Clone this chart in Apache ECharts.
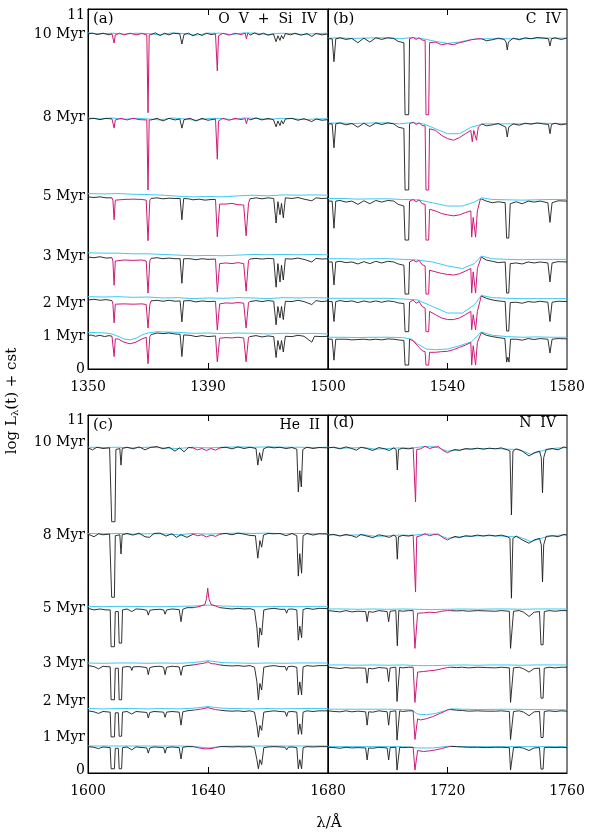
<!DOCTYPE html>
<html><head><meta charset="utf-8">
<script src="https://cdn.jsdelivr.net/npm/echarts@6/dist/echarts.min.js"></script>
<style>html,body{margin:0;padding:0;background:#fff}#c{width:591px;height:837px}</style>
</head><body><div id="c"></div>
<script>
// ---------------- DATA ----------------
// ages (bottom to top) and spectrum levels (log L + cst) for each panel
const ages = ['1 Myr','2 Myr','3 Myr','5 Myr','8 Myr','10 Myr'];
const levelsA = [1.02, 2.11, 3.42, 5.26, 7.64, 10.24];
const levelsB = [0.91, 2.06, 3.27, 5.13, 7.49, 10.09];
const levelsC = [0.81, 1.91, 3.30, 5.06, 7.34, 9.99];
const levelsD = [0.79, 1.91, 3.25, 4.99, 7.31, 9.99];
// y tick labels
const yLabelTextTop = ['0','1 Myr','2 Myr','3 Myr','5 Myr','8 Myr','10 Myr','11'];
const yLabelPosTop  = [0, 1.01, 2.02, 3.45, 5.29, 7.70, 10.24, 10.80];
const yLabelTextBot = ['0','1 Myr','2 Myr','3 Myr','5 Myr','8 Myr','10 Myr','11'];
const yLabelPosBot  = [0.08, 1.11, 2.21, 3.38, 5.07, 7.31, 10.15, 10.85];
// x ranges and tick labels
const xRangeA = [1350, 1430], xRangeB = [1500, 1580], xRangeC = [1600, 1680], xRangeD = [1680, 1760];
const xLabelsA = [1350, 1390], xLabelsB = [1500, 1540, 1580], xLabelsC = [1600, 1640], xLabelsD = [1680, 1720, 1760];
const xMidA = [1390], xMidB = [1540], xMidC = [1640], xMidD = [1720];
const panelTags = ['(a)','(b)','(c)','(d)'];
const panelIons = ['O  V  +  Si  IV','C  IV','He  II','N  IV'];

// spectra: flat lists of wavelength, offset from level (null = gap)
// ---- Panel (a) ----
const A10k=[1350,0,1351.5,.02,1353,-.02,1355,.02,1357,-.03,1358,0,null,1371,-.02,1372.5,.03,1374,-.05,1375.5,.02,1377,-.03,1378.5,.02,1380.6,0,1381.3,-.31,1382,-.02,1383.5,.02,1385,-.06,1386.5,.01,1388,-.05,1389.5,.02,1391,-.02,1392.5,0,null,1404,-.04,1405.5,.03,1407,-.03,1408.5,.02,1410,-.04,1411.8,0,1412.7,-.24,1413.3,-.06,1414,-.2,1414.5,-.05,1415.1,-.15,1415.8,.01,1417.5,-.03,1419,.02,1421,-.04,1423,.01,1424.6,-.08,1426,.01,1428,-.03,1430,0];
const A10m=[1358,0,1358.4,-.03,1358.7,-.28,1359.1,-.03,1360.5,.02,1362,-.03,1364,.02,1366,-.03,1368,.01,1369.6,-.03,1370,-2.41,1370.4,-.03,1371,-.02,null,1392.5,0,1392.7,-.06,1393.1,-1.13,1393.5,-.06,1395,.02,1397,-.04,1399,.02,1401,-.02,1402.4,.02,1402.8,-.15,1403.3,.03,1404,-.04];
const A10c=[1350,.03,1354,0,1358,.02,1362,-.01,1366,.02,1370,.01,1374,-.03,1378,.03,1382,.01,1386,-.04,1390,.02,1394,.02,1398,-.02,1402,.03,1406,.02,1410,-.02,1414,.02,1418,.01,1422,-.02,1426,.01,1430,.02];
const A8k=[1350,0,1352,.02,1354,-.02,1356,.02,1358,0,null,1371,-.03,1373,.02,1375,-.06,1377,.02,1379,-.03,1380.6,0,1381.3,-.28,1382,-.02,1384,.02,1386,-.06,1388,.02,1390,-.04,1392.5,0,null,1404,-.03,1406,.03,1408,-.03,1410,.02,1411.8,-.02,1412.7,-.24,1413.3,-.06,1414,-.2,1414.5,-.05,1415.1,-.15,1415.8,0,1418,.02,1420,-.04,1422,.01,1424.6,-.08,1426,0,1428,-.04,1430,-.02];
const A8m=[1358,0,1358.4,-.03,1358.7,-.28,1359.1,-.03,1361,.02,1363,-.03,1365,.02,1367,-.02,1369.6,-.03,1370,-2.17,1370.4,-.03,1371,-.03,null,1392.5,0,1392.7,-.06,1393.1,-1.23,1393.5,-.06,1395,.02,1397,-.04,1399,.02,1401,-.02,1402.4,.01,1402.8,-.15,1403.3,.02,1404,-.03];
const A8c=[1350,.03,1354,0,1358,.03,1362,-.01,1366,.02,1370,0,1374,-.03,1378,.03,1382,0,1386,-.04,1390,.01,1394,.02,1398,-.02,1402,.03,1406,.02,1410,-.02,1414,.02,1418,.01,1422,-.02,1426,0,1430,.01];
const A5k=[1350,0,1352,-.02,1354,0,1356,-.03,1358,-.03,null,1371,-.05,1373,-.03,1375,-.06,1377,-.04,1379,-.05,1380.7,-.05,1381.3,-.7,1381.9,-.05,1383.5,-.06,1385,-.09,1387,-.07,1389,-.1,1391,-.08,1392.5,-.08,null,1404,-.06,1406,-.03,1408,-.06,1410,-.03,1411.9,-.05,1412.7,-.8,1413.3,-.15,1414,-.55,1414.5,-.2,1415.1,-.64,1415.8,-.03,1418,-.05,1420,-.02,1422,-.07,1424.6,-.12,1426,-.03,1428,-.05,1430,-.04];
const A5m=[1358,-.03,1358.3,-.1,1358.7,-.7,1359.1,-.1,1359.5,-.08,1362,-.08,1365,-.07,1368,-.08,1369.4,-.1,1370,-1.34,1370.6,-.1,1371,-.05,null,1392.5,-.08,1393.1,-1.22,1393.9,-.22,1396,-.22,1398,-.2,1400,-.24,1401.9,-.25,1402.7,-1.19,1403.5,-.2,1404,-.06];
const A5c=[1350,.1,1355,.09,1360,.1,1365,.08,1370,.07,1375,.05,1380,.02,1385,0,1390,.01,1395,0,1400,.03,1405,.05,1410,.03,1415,.06,1420,.05,1425,.06,1430,.05];
const A3k=[1350,0,1352,-.02,1354,.01,1356,-.03,1358,-.02,null,1371,-.04,1373,-.02,1375,-.05,1377,-.03,1379,-.05,1380.7,-.05,1381.3,-.8,1381.9,-.05,1384,-.05,1386,-.08,1388,-.05,1390,-.07,1392.5,-.06,null,1404,-.06,1406,-.04,1408,-.06,1410,-.04,1411.9,-.05,1412.7,-.92,1413.3,-.2,1414,-.76,1414.5,-.25,1415.1,-.7,1415.8,-.05,1418,-.06,1420,-.03,1422,-.07,1424.6,-.15,1426,-.04,1428,-.06,1430,-.05];
const A3m=[1358,-.02,1358.3,-.12,1358.7,-.86,1359.1,-.12,1359.5,-.09,1362,-.09,1365,-.1,1368,-.09,1369.4,-.12,1370,-1.1,1370.6,-.12,1371,-.04,null,1392.5,-.06,1393.1,-1.07,1393.9,-.2,1396,-.18,1398,-.2,1400,-.17,1401.9,-.2,1402.7,-1.04,1403.5,-.1,1404,-.06];
const A3c=[1350,.13,1355,.12,1360,.12,1365,.1,1370,.1,1375,.08,1380,.06,1385,.04,1390,.05,1395,.04,1400,.06,1405,.08,1410,.07,1415,.08,1420,.07,1425,.08,1430,.07];
const A2k=[1350,0,1352,.02,1354,-.01,1356,.01,1358,-.02,null,1371,-.03,1373,-.01,1375,-.04,1377,-.01,1379,-.04,1380.7,-.03,1381.3,-.67,1381.9,-.03,1384,-.02,1386,-.06,1388,-.03,1390,-.05,1392.5,-.04,null,1404,-.05,1406,-.02,1408,-.05,1410,-.02,1411.9,-.04,1412.7,-.76,1413.3,-.2,1414,-.55,1414.5,-.2,1415.1,-.6,1415.8,-.04,1418,-.05,1420,-.01,1422,-.05,1424.6,-.14,1426,-.02,1428,-.05,1430,-.03];
const A2m=[1358,-.02,1358.3,-.13,1358.7,-.7,1359.1,-.13,1359.5,-.12,1362,-.12,1365,-.13,1368,-.12,1369.4,-.14,1370,-.86,1370.6,-.14,1371,-.03,null,1392.5,-.04,1393.1,-.92,1393.9,-.12,1396,-.09,1398,-.1,1400,-.08,1401.9,-.1,1402.7,-.86,1403.5,-.08,1404,-.05];
const A2c=[1350,.1,1355,.09,1360,.1,1365,.08,1370,.09,1375,.06,1380,.07,1385,.04,1390,.06,1395,.05,1400,.07,1405,.06,1410,.04,1415,.07,1420,.06,1425,.07,1430,.06];
const A1k=[1350,0,1351,.02,1352.5,-.02,1354,.01,1355.5,-.03,1357,0,1358,-.02,null,1371,.03,1373,.08,1375,.06,1377,.08,1379,.05,1380.7,.04,1381.3,-.64,1381.9,.02,1384,.01,1386,-.03,1388,0,1390,-.03,1392.5,-.01,null,1404,-.03,1406,0,1408,-.04,1410,-.01,1411.9,-.03,1412.7,-.67,1413.3,-.15,1414,-.43,1414.5,-.15,1415.1,-.5,1415.8,-.02,1418,-.03,1420,.01,1422,-.02,1424.6,-.2,1425.5,-.02,1428,-.03,1430,-.02];
const A1m=[1358,-.02,1358.3,-.08,1358.7,-.64,1359.1,-.1,1360,-.1,1362,-.2,1364,-.25,1366,-.2,1368,-.1,1369.4,-.05,1370,-.86,1370.6,-.03,1371,.03,null,1392.5,-.01,1393.1,-.8,1393.9,-.08,1396,-.06,1398,-.07,1400,-.05,1401.9,-.07,1402.7,-.8,1403.5,-.05,1404,-.03];
const A1c=[1350,.1,1353,.09,1356,.08,1358,.05,1360,-.02,1362,-.1,1364,-.13,1366,-.08,1368,.02,1370,.08,1373,.12,1376,.11,1380,.1,1385,.07,1390,.08,1395,.06,1400,.08,1405,.07,1410,.05,1415,.07,1420,.06,1425,.07,1430,.05];
// ---- Panel (b) ----
const B10k=[1500,0,1501.4,0,1502,-.7,1502.6,0,1504,.03,1506,-.02,1508,.01,1510,-.12,1512,.02,1514,-.1,1516,.03,1518,-.02,1520,.03,1522,.01,1523.5,-.08,1525.4,-.12,1525.8,-2.32,1527,-2.32,1527.3,0,null,1551.5,0,1553,-.06,1555,-.03,1557,.02,1559,-.02,1559.6,-.1,1560,-.34,1560.4,-.1,1562,.02,1564,-.03,1566,.03,1568,0,1570,.04,1572,.02,1573.8,0,1574.3,-.22,1574.8,0,1576,.03,1578,-.02,1580,.02];
const B10m=[1527.3,0,1528.5,.04,1529.5,-.02,1530.5,.03,1531.5,-.04,1532.5,-.05,1532.8,-2.32,1533.7,-2.32,1534,-.12,1536,-.1,1538,-.18,1540,-.15,1542,-.18,1544,-.12,1546,-.08,1548,-.03,1550,0,1551.5,0];
const B10c=[1500,.02,1504,.03,1508,.01,1512,.02,1516,.03,1520,.03,1524,0,1528,.04,1532,0,1536,-.08,1540,-.14,1544,-.1,1548,-.02,1552,0,1556,0,1560,0,1564,0,1568,.01,1572,.03,1576,.02,1580,.02];
const B8k=[1500,0,1501.4,0,1502,-.73,1502.6,0,1504,.03,1506,-.03,1508,.01,1510,-.1,1512,.02,1514,-.08,1516,.03,1518,-.02,1520,.03,1522,0,1523.5,-.1,1525.4,-.14,1525.8,-2.02,1527,-2.02,1527.3,0,null,1551.5,0,1553,-.06,1555,-.03,1557,.01,1559.5,-.1,1560,-.4,1560.5,-.1,1562,0,1564,-.04,1566,.02,1568,-.01,1570,.03,1572,0,1573.8,-.02,1574.3,-.3,1574.8,-.02,1576,.02,1578,-.03,1580,0];
const B8m=[1527.3,0,1528.5,.05,1529.5,-.02,1530.5,.03,1531.5,-.05,1532.5,-.06,1532.8,-2.02,1533.7,-2.02,1534,-.15,1536,-.2,1538,-.35,1540,-.45,1542,-.5,1544,-.42,1546,-.3,1547.8,-.2,1548.3,-.55,1548.8,-.2,1549.7,-.5,1550.3,-.1,1551.5,0];
const B8c=[1500,.02,1504,.03,1508,.01,1512,.02,1516,.03,1520,.03,1524,0,1528,.04,1532,0,1536,-.15,1540,-.3,1544,-.3,1548,-.1,1552,0,1556,0,1560,0,1564,0,1568,.01,1572,.02,1576,.01,1580,.01];
const B5k=[1500,0,1501.4,0,1502,-.83,1502.6,0,1504,.02,1506,-.03,1508,0,1510,-.1,1512,.01,1514,-.08,1516,.02,1518,-.03,1520,.02,1522,0,1523.5,-.1,1525.4,-.15,1525.8,-1.19,1527,-1.19,1527.3,0,null,1551.5,.06,1553,0,1555,-.05,1557,-.02,1559.3,-.05,1559.8,-1.13,1560.5,-1.13,1561,-.08,1563,-.02,1565,-.08,1567,0,1569,-.03,1571,0,1573.6,-.05,1574.3,-.65,1575,-.05,1577,.01,1580,0];
const B5m=[1527.3,0,1528.5,.05,1529.5,-.02,1530.5,.04,1531.5,-.08,1532.5,-.1,1532.8,-1.19,1533.7,-1.19,1534,-.25,1536,-.3,1538,-.38,1540,-.42,1542,-.45,1544,-.42,1546,-.35,1547.8,-.3,1548.1,-1.1,1548.6,-.5,1549.4,-1.1,1550,-.3,1551,.06,1551.5,.06];
const B5c=[1500,.08,1505,.08,1510,.06,1515,.07,1520,.07,1525,.05,1530,.04,1535,-.05,1540,-.15,1545,-.15,1549,-.03,1551.5,.1,1555,.05,1560,.04,1565,.03,1570,.04,1575,.05,1580,.05];
const B3k=[1500,0,1501.4,0,1502,-.7,1502.6,0,1504,.02,1506,-.02,1508,0,1510,-.06,1512,.01,1514,-.05,1516,.02,1518,-.03,1520,.02,1522,0,1523.5,-.06,1525.4,-.1,1525.8,-.98,1527,-.98,1527.3,0,null,1551.3,.15,1553,.06,1555,.02,1557,-.02,1559.3,0,1559.8,-.95,1560.5,-.95,1561,-.05,1563,-.03,1565,-.06,1567,0,1569,-.03,1571,0,1573.6,-.03,1574.3,-.61,1575,-.03,1577,.01,1580,0];
const B3m=[1527.3,0,1528.5,.06,1529.5,0,1530.5,.05,1531.5,-.08,1532.5,-.12,1532.8,-.98,1533.7,-.98,1534,-.25,1536,-.3,1538,-.35,1540,-.38,1542,-.4,1544,-.36,1546,-.28,1547.8,-.2,1548.1,-.95,1548.6,-.3,1549.4,-.95,1550,-.2,1551.3,.15];
const B3c=[1500,.1,1505,.1,1510,.09,1515,.1,1520,.1,1525,.08,1530,.06,1535,0,1540,-.12,1545,-.2,1549,-.05,1551.3,.18,1555,.1,1560,.08,1565,.07,1570,.08,1575,.08,1580,.08];
const B2k=[1500,0,1501.4,0,1502,-.61,1502.6,0,1504,.03,1506,0,1508,.02,1510,-.03,1512,.02,1514,-.02,1516,.02,1518,-.02,1520,.02,1522,0,1523.5,-.04,1525.4,-.06,1525.8,-.92,1527,-.92,1527.3,-.02,null,1551.3,.17,1553,.1,1555,.05,1557,.02,1559.3,0,1559.8,-.9,1560.5,-.9,1561,-.03,1563,-.02,1565,-.05,1567,0,1569,-.02,1571,.01,1573.6,-.02,1574.3,-.61,1575,-.02,1577,.01,1580,0];
const B2m=[1527.3,-.02,1528.5,.05,1529.5,-.05,1530.5,0,1531.5,-.15,1532.5,-.2,1532.8,-.92,1533.7,-.92,1534,-.3,1536,-.4,1538,-.5,1540,-.55,1542,-.55,1544,-.5,1546,-.4,1547.8,-.3,1548.1,-.86,1548.6,-.4,1549.4,-.86,1550,-.3,1551.3,.17];
const B2c=[1500,.1,1505,.1,1510,.1,1515,.1,1520,.1,1525,.08,1530,.05,1535,-.15,1540,-.35,1545,-.35,1549,-.1,1551.3,.19,1555,.12,1560,.1,1565,.09,1570,.09,1575,.09,1580,.09];
const B1k=[1500,0,1501.4,0,1502,-.64,1502.6,0,1504,0,1506,0,1508,-.02,1510,-.01,1512,0,1514,-.02,1516,0,1518,-.02,1520,.01,1522,0,1523.5,-.02,1525.4,-.04,1525.8,-.79,1527,-.79,1527.3,0,null,1551.3,.2,1553,.12,1555,.08,1557,.05,1559.2,.02,1559.8,-.7,1560.2,-.55,1560.6,-.7,1561.1,0,1563,0,1565,-.03,1567,.02,1569,-.01,1571,.02,1573.6,0,1574.3,-.42,1575,0,1577,.02,1580,.01];
const B1m=[1527.3,0,1528.5,-.05,1529.5,-.15,1530.5,-.25,1531.5,-.35,1532.5,-.38,1532.8,-.79,1533.7,-.79,1534,-.4,1536,-.4,1538,-.38,1540,-.37,1542,-.32,1544,-.25,1546,-.18,1547.8,-.1,1548.1,-.79,1548.6,-.2,1549.4,-.79,1550,-.1,1551.3,.2];
const B1c=[1500,.06,1505,.06,1510,.05,1515,.06,1520,.06,1525,.05,1528,0,1530,-.15,1533,-.3,1536,-.32,1540,-.3,1544,-.2,1548,-.08,1551.3,.22,1555,.12,1560,.08,1565,.06,1570,.07,1575,.06,1580,.06];
// ---- Panel (c) ----
const C10k=[1600,0,1601.5,-.06,1603,.02,1605,-.02,1607.2,0,1607.6,-.05,1607.9,-2.27,1609,-2.27,1609.3,-.05,1610.6,-.02,1611,-.53,1611.4,-.02,1613,.02,1615,-.03,1617,.03,1619,-.06,1621,.02,1623,.04,1625,-.03,1627,.02,1629,-.1,1630.5,0,1632,-.12,1633.5,.01,1635,0,null,1644,0,1646,.02,1648,-.03,1650,.03,1652,-.02,1654,.02,1656,-.02,1656.6,-.53,1657.2,-.15,1657.8,-.4,1658.5,-.03,1660,.03,1662,0,1664,.02,1666,-.02,1668,.01,1669.6,-.04,1670.1,-1.35,1670.6,-.7,1671.1,-1.2,1671.6,-.05,1673,.02,1675,-.02,1677,.01,1680,0];
const C10m=[1635,0,1636.5,-.06,1638,-.02,1639.5,-.08,1641,-.02,1642.5,-.07,1644,0];
const C10c=[1600,.02,1605,.01,1610,.02,1615,0,1620,.02,1625,0,1630,-.02,1635,.02,1640,0,1645,.02,1650,.03,1655,.02,1660,.03,1665,.02,1670,.02,1675,.01,1680,.02];
const C8k=[1600,0,1602,-.08,1603.5,.01,1605,-.02,1607.2,0,1607.6,-.05,1607.9,-1.94,1608.8,-1.94,1609.1,-.05,1610.6,-.02,1611,-.61,1611.4,-.02,1613,.02,1615,-.03,1617,.03,1619,-.08,1620.5,-.1,1622,.02,1624,.03,1626,-.06,1628,.01,1629.5,-.1,1631,-.02,1633,-.1,1635,0,null,1644,0,1646,.02,1648,-.02,1650,.03,1652,0,1654,-.04,1655.8,-.05,1656.6,-.74,1657.3,-.2,1657.9,-.4,1658.5,-.03,1660,.02,1662,.01,1664,.02,1666,-.05,1668,.02,1669.6,-.05,1670.1,-1.29,1670.6,-.6,1671.2,-1.2,1671.7,-.05,1673,.02,1675,-.03,1677,.01,1680,0];
const C8m=[1635,0,1636.5,-.05,1638,-.02,1639.5,-.09,1641,-.03,1642.5,-.07,1644,0];
const C8c=[1600,.02,1605,.01,1610,.02,1615,0,1620,.01,1625,.01,1630,-.02,1635,.02,1640,0,1645,.02,1650,.03,1655,.02,1660,.03,1665,.01,1670,.02,1675,.01,1680,.02];
const C5k=[1600,0,1602,-.05,1604,-.02,1606,-.05,1607.4,-.05,1607.7,-1.18,1608.8,-1.18,1609.1,-.1,1610.1,-.1,1610.4,-1.07,1611.2,-1.07,1611.5,-.05,1613,-.02,1614.6,-.1,1616,-.02,1618,-.03,1619.6,-.06,1620.1,-.21,1620.6,-.06,1622,-.04,1624,-.03,1625.2,-.05,1625.7,-.18,1626.2,-.05,1628,-.02,1630.4,-.04,1631,-.41,1631.6,-.03,1633,.02,1635,.02,null,1644,.02,1646,0,1648,-.02,1650,0,1652,-.02,1654,-.01,1655.5,-.05,1656.3,-.6,1656.8,-1.2,1657.3,-.6,1657.9,-.82,1658.6,-.05,1660,-.02,1662,0,1664,-.03,1665.7,-.03,1666.2,-.15,1666.7,-.03,1668,-.02,1669.6,-.05,1670.1,-.98,1670.6,-.55,1671.2,-.9,1671.7,-.04,1673,0,1675,-.03,1677,0,1680,-.01];
const C5m=[1635,.02,1637,.05,1639,.12,1639.5,.3,1639.9,.62,1640.3,.3,1641,.12,1642.5,.07,1644,.02];
const C5c=[1600,.06,1605,.05,1610,.06,1615,.06,1620,.05,1625,.05,1630,.06,1635,.07,1640,.1,1645,.07,1650,.06,1655,.05,1660,.05,1665,.06,1670,.05,1675,.06,1680,.06];
const C3k=[1600,0,1602,-.03,1603.5,-.1,1605,-.02,1607.4,-.04,1607.7,-1.05,1608.8,-1.05,1609.1,-.08,1610.1,-.08,1610.4,-1.05,1611.2,-1.05,1611.5,-.05,1613,-.03,1614.2,-.04,1614.6,-.15,1615,-.04,1617,-.03,1619.6,-.06,1620.1,-.28,1620.6,-.06,1622,-.03,1624,-.02,1625.2,-.05,1625.7,-.28,1626.2,-.05,1628,-.02,1630.4,-.04,1631,-.3,1631.6,-.03,1633,0,1635,.02,null,1644,.02,1646,0,1648,-.01,1650,0,1652,-.02,1654,0,1655.5,-.05,1656.3,-.5,1656.8,-1.05,1657.3,-.55,1657.9,-.75,1658.6,-.05,1660,-.02,1662,0,1664,-.03,1665.7,-.03,1666.2,-.15,1666.7,-.03,1668,-.02,1669.6,-.05,1670.1,-.9,1670.6,-.5,1671.2,-.9,1671.7,-.04,1673,0,1675,-.02,1677,0,1680,0];
const C3m=[1635,.02,1637,.05,1639,.08,1640,.12,1641,.06,1642.5,.05,1644,.02];
const C3c=[1600,.08,1605,.07,1610,.08,1615,.08,1620,.07,1625,.08,1630,.07,1635,.09,1640,.15,1645,.09,1650,.08,1655,.07,1660,.08,1665,.07,1670,.08,1675,.08,1680,.08];
const C2k=[1600,0,1602,-.03,1603.5,-.08,1605,-.02,1607.4,-.04,1607.7,-.8,1608.8,-.8,1609.1,-.06,1610.1,-.06,1610.4,-.78,1611.2,-.78,1611.5,-.04,1613,-.02,1614.6,-.1,1616,-.02,1619.6,-.05,1620.1,-.22,1620.6,-.05,1622,-.02,1625.2,-.04,1625.7,-.2,1626.2,-.04,1628,-.02,1630.4,-.04,1631,-.44,1631.6,-.03,1633,0,1635,.02,null,1644,.02,1646,0,1648,-.01,1650,0,1652,-.02,1654,0,1655.5,-.04,1656.3,-.45,1656.8,-.81,1657.3,-.45,1657.9,-.6,1658.6,-.04,1660,-.02,1662,0,1664,-.02,1665.7,-.03,1666.2,-.17,1666.7,-.03,1668,-.02,1669.6,-.04,1670.1,-.72,1670.6,-.4,1671.2,-.72,1671.7,-.04,1673,0,1675,-.02,1677,0,1680,0];
const C2m=[1635,.02,1637.5,.05,1640,.1,1641,.07,1642.5,.04,1644,.02];
const C2c=[1600,.07,1605,.06,1610,.07,1615,.07,1620,.06,1625,.07,1630,.06,1635,.08,1640,.13,1645,.08,1650,.07,1655,.06,1660,.07,1665,.06,1670,.07,1675,.07,1680,.07];
const C1k=[1600,0,1602,-.02,1603.5,-.06,1605,-.01,1607.4,-.03,1607.7,-.68,1608.8,-.68,1609.1,-.05,1610.1,-.05,1610.4,-.68,1611.2,-.68,1611.5,-.03,1613,-.01,1614.6,-.1,1616,-.01,1619.6,-.04,1620.1,-.2,1620.6,-.04,1622,-.01,1625.2,-.03,1625.7,-.2,1626.2,-.03,1628,-.01,1630.4,-.03,1631,-.38,1631.6,-.02,1633,0,1635,0,null,1644,0,1646,0,1648,-.01,1650,0,1652,-.01,1654,0,1655.5,-.03,1656.3,-.4,1656.8,-.68,1657.3,-.4,1657.9,-.55,1658.6,-.03,1660,-.01,1662,0,1664,-.01,1665.7,-.02,1666.2,-.1,1666.7,-.02,1668,-.01,1669.6,-.03,1670.1,-.68,1670.6,-.4,1671.2,-.68,1671.7,-.03,1673,0,1675,-.01,1677,0,1680,0];
const C1m=[1635,0,1637,-.04,1639,-.07,1641,-.06,1642.5,-.03,1644,0];
const C1c=[1600,.02,1605,.02,1610,.02,1615,.02,1620,.02,1625,.02,1630,.02,1635,.01,1640,-.04,1645,.01,1650,.02,1655,.02,1660,.02,1665,.02,1670,.02,1675,.02,1680,.02];
// ---- Panel (d) ----
const D10k=[1680,0,1682,.02,1684,-.03,1686,.03,1688,-.02,1689.5,-.07,1691,.02,1693,-.02,1695,-.08,1697,.01,1699,-.03,1700.5,-.08,1702,0,1702.8,-.05,1703.2,-.68,1703.6,-.05,1705,-.01,1707,-.03,1708.5,0,null,1721,-.1,1722.5,-.05,1724,-.08,1726,-.02,1728,-.04,1730,-.01,1732,-.04,1734,-.01,1736,-.03,1738,0,1740,-.06,1740.9,-.1,1741.4,-2.06,1741.9,-.1,1743,-.03,1745,-.1,1747.3,-.25,1749,-.15,1750.8,-.1,1751.4,-.3,1751.8,-1.38,1752.2,-.3,1753,-.05,1755,-.02,1757,-.06,1759,.03,1760,0];
const D10m=[1708.5,0,1708.9,-.05,1709.3,-1.66,1709.7,-.05,1711,-.03,1712.5,.05,1714,-.02,1715.5,.02,1717,.04,1718.5,-.08,1720,-.15,1721,-.1];
const D10c=[1680,.02,1684,-.01,1688,0,1692,.01,1696,-.04,1700,-.02,1704,0,1708,-.01,1712,.04,1716,.03,1720,-.1,1724,-.06,1728,-.03,1732,-.02,1736,-.02,1740,-.04,1744,-.05,1748,-.2,1752,-.08,1756,-.01,1760,.01];
const D8k=[1680,0,1682,.02,1684,-.03,1686,.02,1688,-.02,1689.5,-.07,1691,.02,1693,-.03,1695,-.08,1697,.01,1699,-.03,1700.5,-.07,1702,0,1702.8,-.05,1703.2,-.74,1703.6,-.05,1705,-.01,1707,-.03,1708.5,0,null,1721,-.1,1722.5,-.04,1724,-.08,1726,-.02,1728,-.04,1730,0,1732,-.03,1734,0,1736,-.03,1738,0,1740,-.05,1740.9,-.1,1741.4,-1.94,1741.9,-.1,1743,-.03,1745,-.15,1747.3,-.25,1749,-.15,1750.8,-.1,1751.4,-.3,1751.8,-1.44,1752.2,-.3,1753,-.04,1755,-.02,1757,-.05,1759,.02,1760,0];
const D8m=[1708.5,0,1708.9,-.05,1709.3,-1.75,1709.7,-.05,1711,-.02,1712.5,.04,1714,-.02,1715.5,.02,1717,.03,1718.5,-.08,1720,-.15,1721,-.1];
const D8c=[1680,.02,1684,-.01,1688,0,1692,.01,1696,-.04,1700,-.02,1704,0,1708,-.01,1712,.03,1716,.03,1720,-.1,1724,-.05,1728,-.03,1732,-.02,1736,-.02,1740,-.04,1744,-.06,1748,-.2,1752,-.08,1756,-.01,1760,.01];
const D5k=[1680,0,1682,-.02,1684,-.04,1686,0,1688,-.04,1690,-.02,1692.6,-.03,1693.1,-.34,1693.6,-.03,1695,-.05,1697,0,1699.8,-.03,1700.3,-.34,1700.8,-.02,1702.7,0,1703.2,-1.08,1703.7,0,1705,-.02,1707,0,1708.5,0,null,1721,0,1723,-.01,1725,0,1727,-.02,1730,0,1733,-.01,1736,-.02,1738,0,1740.7,-.02,1741.1,-1.16,1741.7,-1.16,1742.1,-.02,1744,0,1745.5,-.05,1747.3,-.18,1749,-.05,1750.8,-.03,1751.3,-1.05,1752,-1.05,1752.4,-.03,1754,0,1756,-.02,1758,0,1760,0];
const D5m=[1708.5,0,1708.9,-.05,1709.1,-1.16,1709.7,-1.16,1710,-.08,1712,-.07,1714,-.05,1716,-.06,1718,-.02,1720,0,1721,0];
const D5c=[1680,.05,1685,.05,1690,.04,1695,.05,1700,.04,1705,.05,1710,.04,1715,.03,1720,.04,1725,.05,1730,.04,1735,.05,1740,.05,1745,.04,1750,.05,1755,.05,1760,.05];
const D3k=[1680,0,1682,-.02,1684,-.04,1686,-.01,1688,-.03,1690,-.02,1692.6,-.03,1693.1,-.49,1693.6,-.03,1695,-.05,1697,-.01,1699.8,-.03,1700.3,-.44,1700.8,-.02,1702.7,0,1703.1,-1.05,1703.6,-1.05,1704,0,1705,-.02,1707,0,1708.5,0,null,1721,0,1723,-.01,1725,0,1727,-.02,1730,0,1733,-.01,1736,-.02,1738,0,1740.7,-.02,1741.1,-1.08,1741.7,-1.08,1742.1,-.02,1744,0,1745.5,-.05,1747.3,-.15,1749,-.04,1750.8,-.03,1751.3,-.95,1752,-.95,1752.4,-.03,1754,0,1756,-.02,1758,0,1760,0];
const D3m=[1708.5,0,1708.9,-.05,1709.1,-1.08,1709.7,-1.08,1710,-.15,1712,-.13,1714,-.11,1716,-.09,1718,-.05,1720,-.01,1721,0];
const D3c=[1680,.07,1685,.07,1690,.06,1695,.07,1700,.06,1705,.07,1710,.05,1715,.05,1720,.06,1725,.07,1730,.06,1735,.07,1740,.07,1745,.06,1750,.07,1755,.07,1760,.07];
const D2k=[1680,0,1682,-.02,1684,-.03,1686,0,1688,-.03,1690,-.01,1692.6,-.03,1693.1,-.44,1693.6,-.03,1695,-.04,1697,0,1699.8,-.03,1700.3,-.44,1700.8,-.02,1702.7,0,1703.1,-.9,1703.6,-.9,1704,0,1705,-.02,1707,0,1708.5,0,null,1721,.04,1723,.02,1725,.01,1727,-.01,1730,0,1733,-.01,1736,-.01,1738,0,1740.7,-.02,1741.1,-.88,1741.7,-.88,1742.1,-.02,1744,0,1745.5,-.04,1747.3,-.15,1749,-.03,1750.8,-.02,1751.3,-.82,1752,-.82,1752.4,-.02,1754,0,1756,-.02,1758,0,1760,-.01];
const D2m=[1708.5,0,1708.9,-.05,1709.1,-.88,1709.7,-.88,1710,-.25,1711,-.28,1713,-.24,1715,-.18,1717,-.1,1719,-.02,1720,.03,1721,.04];
const D2c=[1680,.05,1690,.05,1700,.05,1705,.04,1708,.03,1710,-.1,1713,-.12,1716,-.08,1719,0,1721,.06,1725,.05,1730,.04,1740,.05,1750,.04,1760,.03];
const D1k=[1680,0,1682,-.01,1684,-.03,1686,0,1688,-.02,1690,-.01,1692.6,-.02,1693.1,-.39,1693.6,-.02,1695,-.03,1697,0,1699.8,-.02,1700.3,-.39,1700.8,-.01,1702.7,0,1703.1,-.7,1703.6,-.7,1704,0,1705,-.01,1707,0,1708.5,0,null,1721,.03,1723,.02,1725,.01,1727,0,1730,0,1733,-.01,1736,0,1738,0,1740.7,-.01,1741.1,-.7,1741.7,-.7,1742.1,-.01,1744,0,1745.5,-.03,1747.3,-.1,1749,-.02,1750.8,-.01,1751.3,-.67,1752,-.67,1752.4,-.01,1754,0,1756,-.01,1758,0,1760,-.01];
const D1m=[1708.5,0,1708.9,-.04,1709.1,-.7,1709.7,-.7,1710,-.1,1712,-.13,1714,-.11,1716,-.08,1718,-.04,1720,.01,1721,.03];
const D1c=[1680,.02,1690,.02,1700,.02,1705,.02,1710,-.02,1715,-.02,1720,.03,1725,.02,1730,.02,1740,.02,1750,.02,1760,.02];

// ---------------- CHART ----------------
const FONT = '"DejaVu Serif", "Liberation Serif", serif';
const COL_K = '#1b1b1b', COL_M = '#cc1a78', COL_C = '#3fcaf2';
const panels = [
  {lv: levelsA, k:[A1k,A2k,A3k,A5k,A8k,A10k], m:[A1m,A2m,A3m,A5m,A8m,A10m], c:[A1c,A2c,A3c,A5c,A8c,A10c]},
  {lv: levelsB, k:[B1k,B2k,B3k,B5k,B8k,B10k], m:[B1m,B2m,B3m,B5m,B8m,B10m], c:[B1c,B2c,B3c,B5c,B8c,B10c]},
  {lv: levelsC, k:[C1k,C2k,C3k,C5k,C8k,C10k], m:[C1m,C2m,C3m,C5m,C8m,C10m], c:[C1c,C2c,C3c,C5c,C8c,C10c]},
  {lv: levelsD, k:[D1k,D2k,D3k,D5k,D8k,D10k], m:[D1m,D2m,D3m,D5m,D8m,D10m], c:[D1c,D2c,D3c,D5c,D8c,D10c]}
];
function segments(flat, level) {
  const segs = [[]];
  for (let i = 0; i < flat.length;) {
    if (flat[i] === null) { segs.push([]); i++; continue; }
    segs[segs.length - 1].push([flat[i], +(level + flat[i + 1]).toFixed(3)]);
    i += 2;
  }
  return segs.filter(s => s.length);
}
const grids = [
  {left: 88, top: 9, width: 240, height: 360},
  {left: 328, top: 9, width: 239, height: 360},
  {left: 88, top: 415, width: 240, height: 358},
  {left: 328, top: 415, width: 239, height: 358}
].map(g => Object.assign(g, {show: true, borderColor: '#000', borderWidth: 1, backgroundColor: 'transparent'}));
const ranges = [xRangeA, xRangeB, xRangeC, xRangeD];
const xlabs = [xLabelsA, xLabelsB, xLabelsC, xLabelsD];
const mids = [xMidA, xMidB, xMidC, xMidD];
const xAxes = [], yAxes = [], series = [];
for (let g = 0; g < 4; g++) {
  xAxes.push({gridIndex: g, type: 'value', min: ranges[g][0], max: ranges[g][1], position: 'bottom',
    axisLine: {show: true, lineStyle: {color: '#000', width: 1}},
    axisTick: {show: true, inside: true, length: 6, customValues: mids[g], lineStyle: {color: '#000', width: 1}},
    axisLabel: {show: true, customValues: xlabs[g], margin: 11, fontFamily: FONT, fontSize: 14, color: '#000',
      formatter: v => String(Math.round(v))},
    splitLine: {show: false}});
  xAxes.push({gridIndex: g, type: 'value', min: ranges[g][0], max: ranges[g][1], position: 'top',
    axisLine: {show: true, lineStyle: {color: '#000', width: 1}},
    axisTick: {show: true, inside: true, length: 6, customValues: mids[g], lineStyle: {color: '#000', width: 1}},
    axisLabel: {show: false}, splitLine: {show: false}});
  const isLeft = (g === 0 || g === 2);
  const lt = g === 0 ? yLabelTextTop : yLabelTextBot;
  const lp = g === 0 ? yLabelPosTop : yLabelPosBot;
  yAxes.push({gridIndex: g, type: 'value', min: 0, max: 11,
    axisLine: {show: true, lineStyle: {color: '#000', width: 1}},
    axisTick: {show: false}, splitLine: {show: false},
    axisLabel: isLeft ? {show: true, customValues: lp, margin: 3, fontFamily: FONT, fontSize: 14, color: '#000',
      formatter: v => { const i = lp.findIndex(p => Math.abs(p - v) < 1e-6); return i >= 0 ? lt[i] : ''; }} : {show: false}});
  const P = panels[g];
  for (let a = 0; a < 6; a++) {
    const lv = P.lv[a];
    const common = {type: 'line', xAxisIndex: 2 * g, yAxisIndex: g, showSymbol: false, symbol: 'none', silent: true, animation: false};
    segments(P.c[a], lv).forEach(s => series.push(Object.assign({}, common, {data: s, z: 2, lineStyle: {color: COL_C, width: 1}})));
    segments(P.k[a], lv).forEach(s => series.push(Object.assign({}, common, {data: s, z: 3, lineStyle: {color: COL_K, width: 0.9}})));
    segments(P.m[a], lv).forEach(s => series.push(Object.assign({}, common, {data: s, z: 4, lineStyle: {color: COL_M, width: 1}})));
  }
}
const textStyle = (t, extra) => Object.assign({text: t, fontFamily: FONT, fontSize: 15, fill: '#000'}, extra || {});
const graphic = [
  {type: 'text', x: 93, y: 19, style: textStyle(panelTags[0], {verticalAlign: 'middle'})},
  {type: 'text', x: 317, y: 19, style: textStyle(panelIons[0], {align: 'right', verticalAlign: 'middle', fontSize: 14})},
  {type: 'text', x: 333, y: 19, style: textStyle(panelTags[1], {verticalAlign: 'middle'})},
  {type: 'text', x: 561, y: 19, style: textStyle(panelIons[1], {align: 'right', verticalAlign: 'middle', fontSize: 14})},
  {type: 'text', x: 93, y: 425, style: textStyle(panelTags[2], {verticalAlign: 'middle'})},
  {type: 'text', x: 320, y: 425, style: textStyle(panelIons[2], {align: 'right', verticalAlign: 'middle', fontSize: 14})},
  {type: 'text', x: 333, y: 423, style: textStyle(panelTags[3], {verticalAlign: 'middle'})},
  {type: 'text', x: 556, y: 423, style: textStyle(panelIons[3], {align: 'right', verticalAlign: 'middle', fontSize: 14})},
  {type: 'text', x: 12, y: 401, rotation: Math.PI / 2,
    style: {text: '{n|log L}{s|λ}{n|(t) + cst}', align: 'center', verticalAlign: 'middle', fill: '#000',
      rich: {n: {fontFamily: FONT, fontSize: 15, fill: '#000'}, s: {fontFamily: FONT, fontSize: 10, fill: '#000', padding: [7, 0, 0, 0]}}}},
  {type: 'text', x: 329, y: 823, style: textStyle('λ/Å', {align: 'center', verticalAlign: 'middle'})}
];
const chart = echarts.init(document.getElementById('c'), null, {renderer: 'canvas'});
chart.setOption({animation: false, backgroundColor: '#fff', grid: grids, xAxis: xAxes, yAxis: yAxes, series: series, graphic: graphic});
</script>
</body></html>
